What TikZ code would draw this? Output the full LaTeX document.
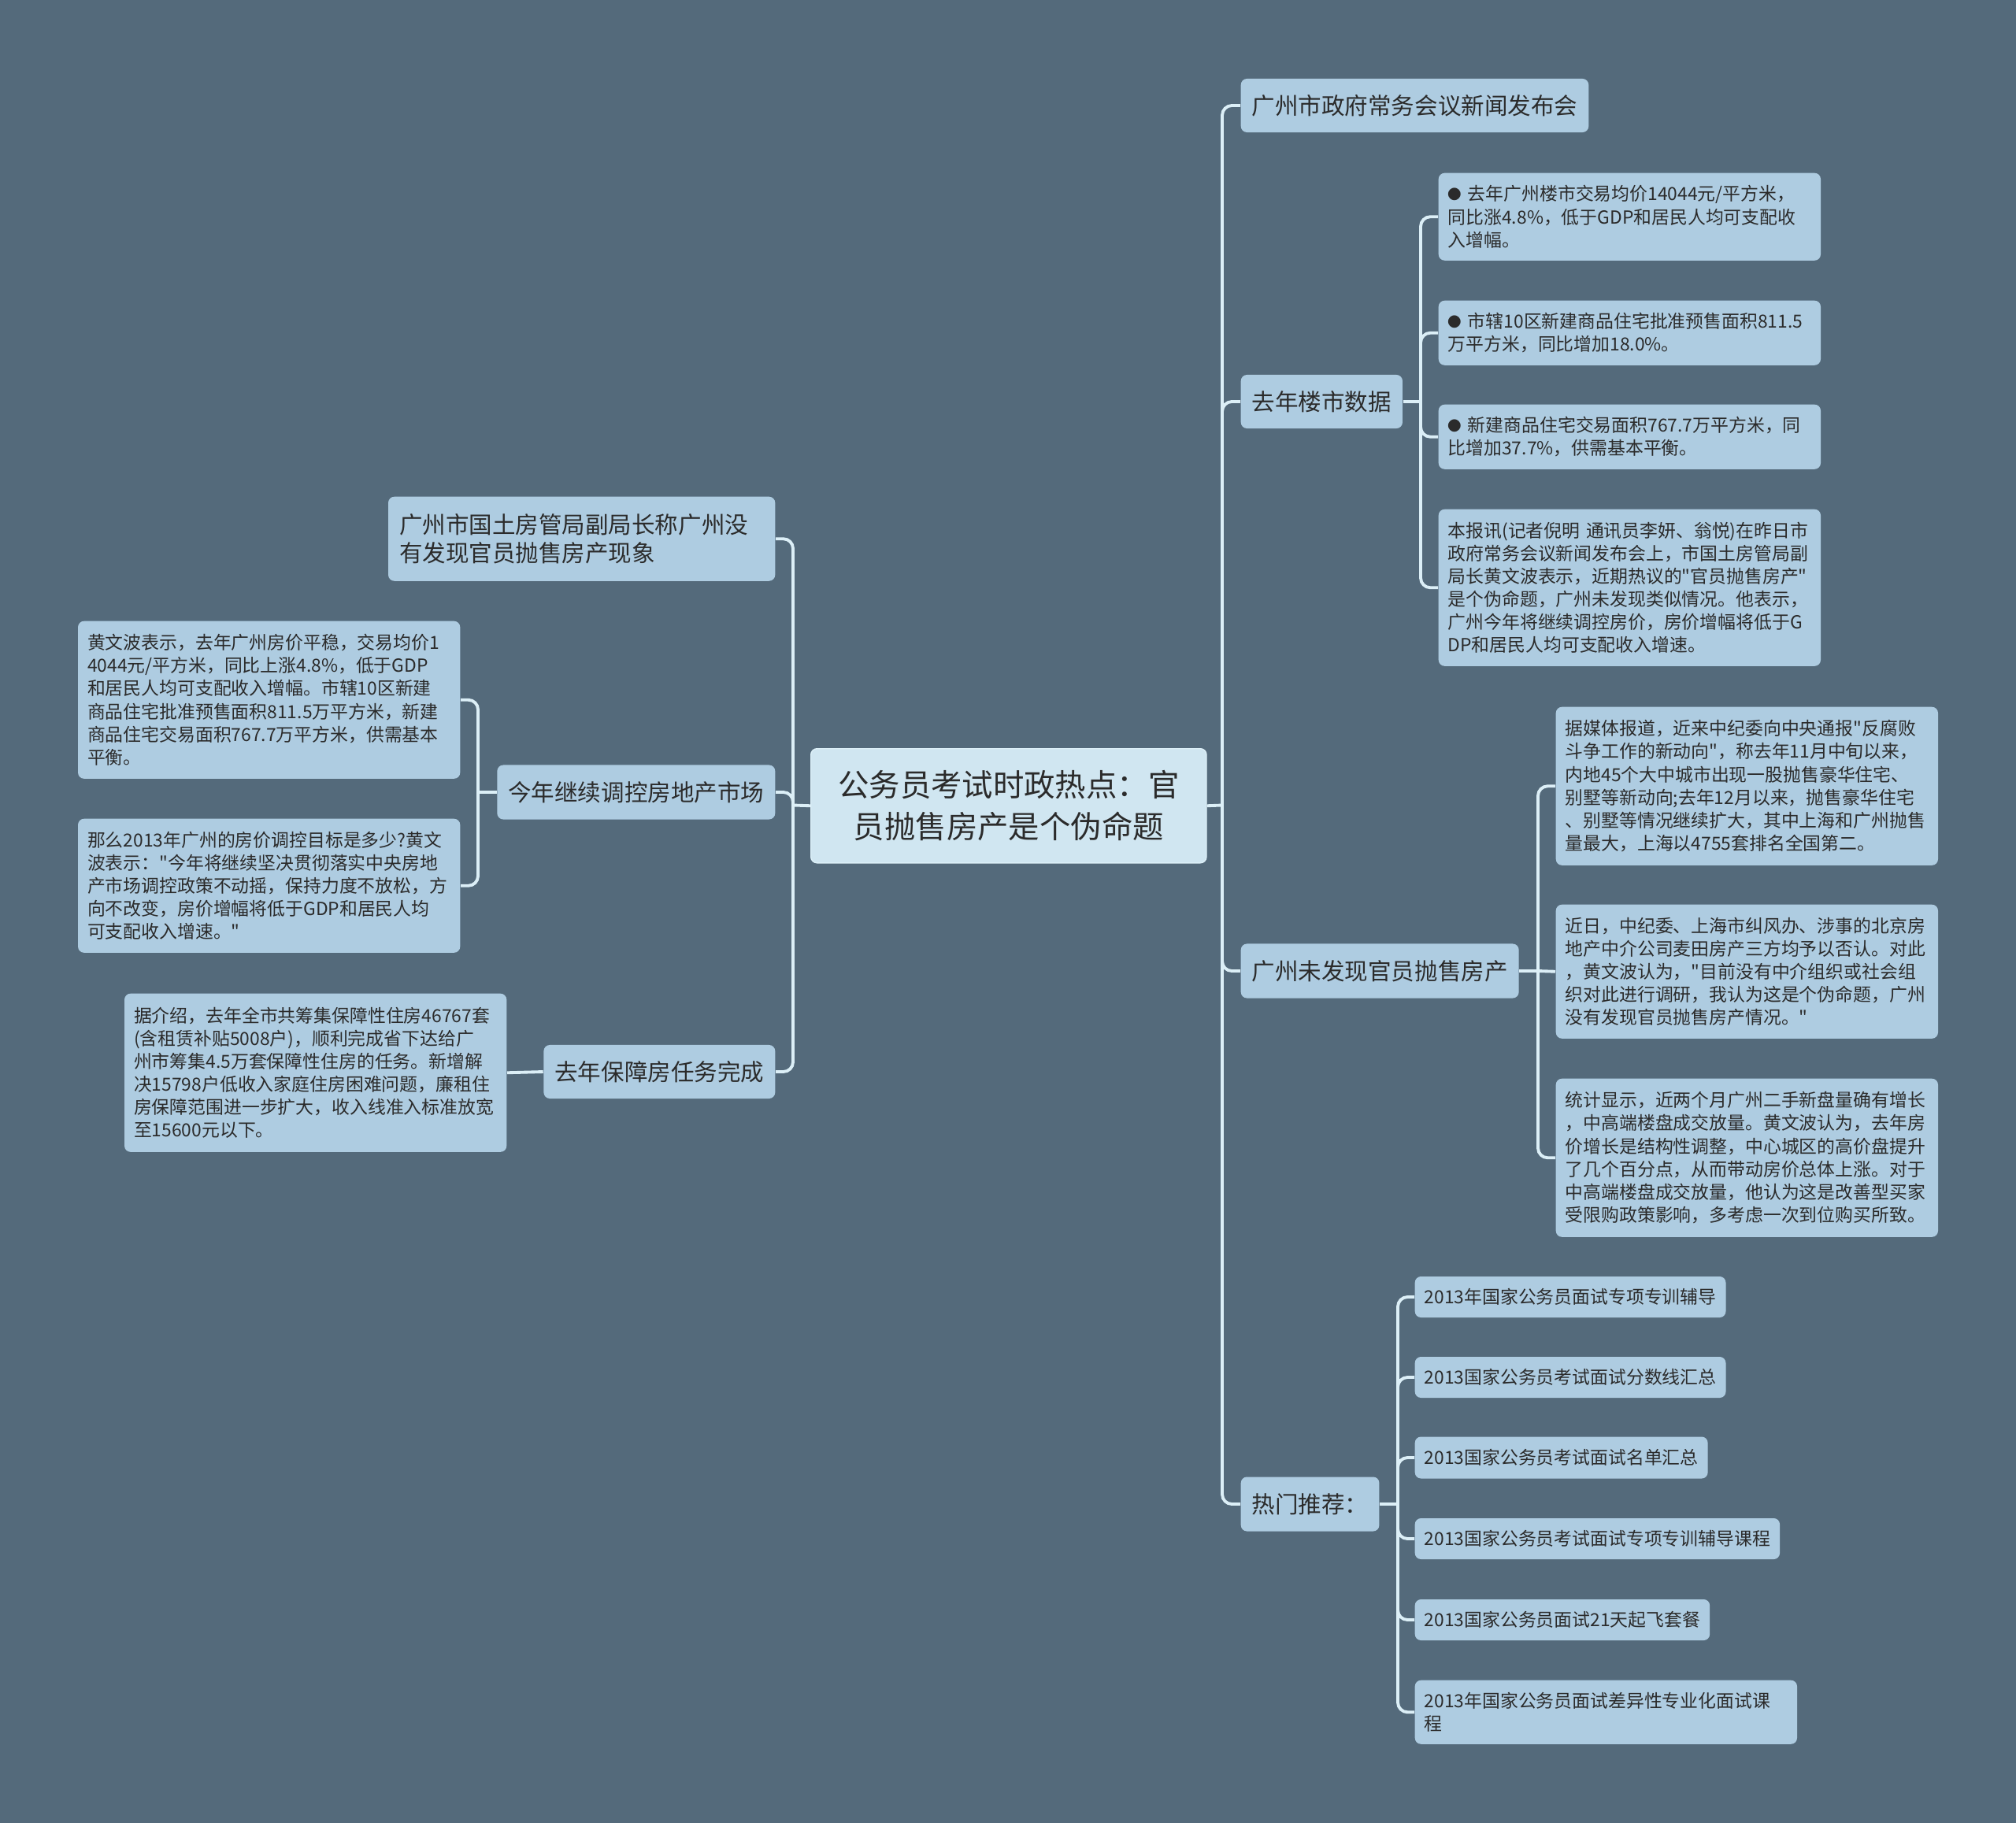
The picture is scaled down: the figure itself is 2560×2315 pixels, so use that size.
\documentclass[tikz,border=0pt]{standalone}
\usepackage{fontspec}
\setmainfont{Noto Sans CJK SC}[Ligatures=TeXOff]

\definecolor{bgcol}{HTML}{546A7B}
\definecolor{boxcol}{HTML}{AECCE1}
\definecolor{rootcol}{HTML}{D0E6F1}
\definecolor{linecol}{HTML}{DCEFF7}
\definecolor{txtcol}{HTML}{2B2B2B}
\newcommand{\bul}{\raisebox{0.4pt}{\fontsize{5pt}{5pt}\selectfont ●}}

\begin{document}
\begin{tikzpicture}[x=0.01cm, y=-0.01cm,
  root/.style={fill=rootcol, draw=linecol, line width=0.4pt, rounded corners=2.2pt, align=center, text=txtcol,
    minimum width=5.02cm, minimum height=1.45cm, inner sep=0pt, font=\fontsize{11.2pt}{15pt}\selectfont},
  topic/.style={fill=boxcol, rounded corners=2.2pt, text=txtcol, inner xsep=0.14cm, inner ysep=0pt,
    font=\fontsize{8.4pt}{10.2pt}\selectfont},
  tag/.style={fill=boxcol, rounded corners=2.2pt, text=txtcol, inner xsep=0.12cm, inner ysep=0pt,
    font=\fontsize{6.5pt}{8.3pt}\selectfont},
  leaf/.style={tag, align=left, text width=4.61cm},
  link/.style={draw=linecol, line width=1.1pt, rounded corners=3.5pt}]
\fill[bgcol] (0,0) rectangle (2560,2315);
\useasboundingbox (0,0) rectangle (2560,2315);

% centre
\node[root, anchor=north west] (root) at (1029,950) {公务员考试时政热点：官\\员抛售房产是个伪命题};

% right side
\node[topic, anchor=west, minimum height=0.68cm] (n1) at (1575,134) {广州市政府常务会议新闻发布会};
\node[topic, anchor=west, minimum height=0.68cm] (n2) at (1575,510) {去年楼市数据};
\node[topic, anchor=west, minimum height=0.69cm] (n3) at (1575,1233) {广州未发现官员抛售房产};
\node[topic, anchor=west, minimum height=0.69cm] (n4) at (1575,1910) {热门推荐：};

\node[leaf, anchor=north west, minimum height=1.11cm] (a1) at (1826,219) {\bul~去年广州楼市交易均价14044元/平方米，\\同比涨4.8\%，低于GDP和居民人均可支配收\\入增幅。};
\node[leaf, anchor=north west, minimum height=0.82cm] (a2) at (1826,381) {\bul~市辖10区新建商品住宅批准预售面积811.5\\万平方米，同比增加18.0\%。};
\node[leaf, anchor=north west, minimum height=0.82cm] (a3) at (1826,513) {\bul~新建商品住宅交易面积767.7万平方米，同\\比增加37.7\%，供需基本平衡。};
\node[leaf, anchor=north west, minimum height=1.99cm] (a4) at (1826,646) {本报讯(记者倪明~通讯员李妍、翁悦)在昨日市\\政府常务会议新闻发布会上，市国土房管局副\\局长黄文波表示，近期热议的"官员抛售房产"\\是个伪命题，广州未发现类似情况。他表示，\\广州今年将继续调控房价，房价增幅将低于G\\DP和居民人均可支配收入增速。};

\node[leaf, anchor=north west, minimum height=2.01cm] (b1) at (1975,897) {据媒体报道，近来中纪委向中央通报"反腐败\\斗争工作的新动向"，称去年11月中旬以来，\\内地45个大中城市出现一股抛售豪华住宅、\\别墅等新动向;去年12月以来，抛售豪华住宅\\、别墅等情况继续扩大，其中上海和广州抛售\\量最大，上海以4755套排名全国第二。};
\node[leaf, anchor=north west, minimum height=1.70cm] (b2) at (1975,1148) {近日，中纪委、上海市纠风办、涉事的北京房\\地产中介公司麦田房产三方均予以否认。对此\\，黄文波认为，"目前没有中介组织或社会组\\织对此进行调研，我认为这是个伪命题，广州\\没有发现官员抛售房产情况。"};
\node[leaf, anchor=north west, minimum height=2.01cm] (b3) at (1975,1369) {统计显示，近两个月广州二手新盘量确有增长\\，中高端楼盘成交放量。黄文波认为，去年房\\价增长是结构性调整，中心城区的高价盘提升\\了几个百分点，从而带动房价总体上涨。对于\\中高端楼盘成交放量，他认为这是改善型买家\\受限购政策影响，多考虑一次到位购买所致。};

\node[tag, anchor=west, minimum height=0.52cm] (c1) at (1796,1647) {2013年国家公务员面试专项专训辅导};
\node[tag, anchor=west, minimum height=0.52cm] (c2) at (1796,1749) {2013国家公务员考试面试分数线汇总};
\node[tag, anchor=west, minimum height=0.53cm] (c3) at (1796,1851) {2013国家公务员考试面试名单汇总};
\node[tag, anchor=west, minimum height=0.52cm] (c4) at (1796,1954) {2013国家公务员考试面试专项专训辅导课程};
\node[tag, anchor=west, minimum height=0.52cm] (c5) at (1796,2057) {2013国家公务员面试21天起飞套餐};
\node[leaf, anchor=north west, minimum height=0.81cm] (c6) at (1796,2133) {2013年国家公务员面试差异性专业化面试课\\程};

% left side
\node[topic, anchor=north east, align=left, text width=4.63cm, minimum height=1.07cm] (m1) at (985,630) {广州市国土房管局副局长称广州没\\有发现官员抛售房产现象};
\node[topic, anchor=east, minimum height=0.69cm] (m2) at (985,1006) {今年继续调控房地产市场};
\node[topic, anchor=east, minimum height=0.68cm] (m3) at (985,1361) {去年保障房任务完成};

\node[leaf, anchor=north east, minimum height=2.00cm] (d1) at (585,788) {黄文波表示，去年广州房价平稳，交易均价1\\4044元/平方米，同比上涨4.8\%，低于GDP\\和居民人均可支配收入增幅。市辖10区新建\\商品住宅批准预售面积811.5万平方米，新建\\商品住宅交易面积767.7万平方米，供需基本\\平衡。};
\node[leaf, anchor=north east, minimum height=1.70cm] (d2) at (585,1039) {那么2013年广州的房价调控目标是多少?黄文\\波表示："今年将继续坚决贯彻落实中央房地\\产市场调控政策不动摇，保持力度不放松，方\\向不改变，房价增幅将低于GDP和居民人均\\可支配收入增速。"};
\node[leaf, anchor=north east, minimum height=2.01cm] (e1) at (644,1261) {据介绍，去年全市共筹集保障性住房46767套\\(含租赁补贴5008户)，顺利完成省下达给广\\州市筹集4.5万套保障性住房的任务。新增解\\决15798户低收入家庭住房困难问题，廉租住\\房保障范围进一步扩大，收入线准入标准放宽\\至15600元以下。};

% junctions
\coordinate (jR) at (1552,1022.5);
\coordinate (jL) at (1007,1022.5);
\coordinate (j2) at (1804,510);
\coordinate (j3) at (1953,1233);
\coordinate (j4) at (1775,1910);
\coordinate (jm2) at (607,1006);

\draw[link] (root.east) -- (jR);
\draw[link] (jR) |- (n1.west) (jR) |- (n2.west) (jR) |- (n3.west) (jR) |- (n4.west);
\draw[link] (n2.east) -- (j2);
\draw[link] (j2) |- (a1.west) (j2) |- (a2.west) (j2) |- (a3.west) (j2) |- (a4.west);
\draw[link] (n3.east) -- (j3);
\draw[link] (j3) |- (b1.west) (j3) -- (b2.west) (j3) |- (b3.west);
\draw[link] (n4.east) -- (j4);
\draw[link] (j4) |- (c1.west) (j4) |- (c2.west) (j4) |- (c3.west) (j4) |- (c4.west) (j4) |- (c5.west) (j4) |- (c6.west);
\draw[link] (root.west) -- (jL);
\draw[link] (jL) |- (m1.east) (jL) |- (m2.east) (jL) |- (m3.east);
\draw[link] (m2.west) -- (jm2);
\draw[link] (jm2) |- (d1.east) (jm2) |- (d2.east);
\draw[link] (m3.west) -- (e1.east);
\end{tikzpicture}
\end{document}
